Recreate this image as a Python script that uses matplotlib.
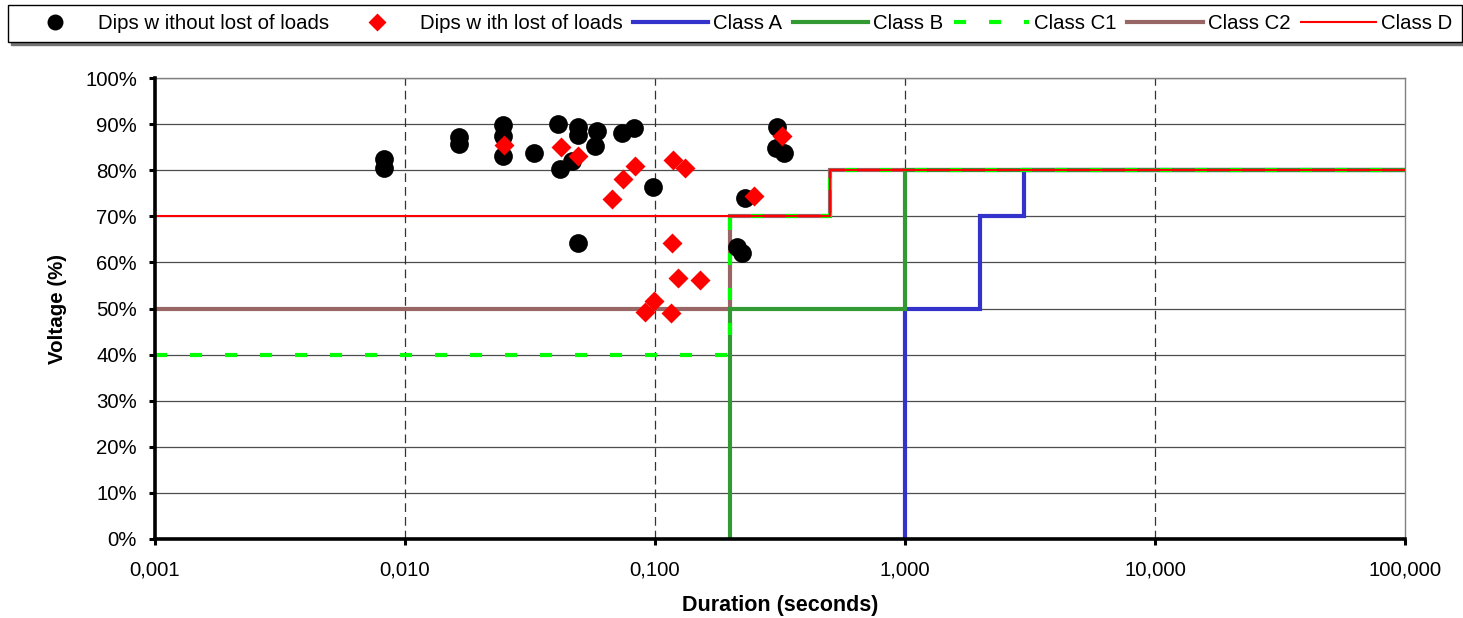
import matplotlib
matplotlib.use("Agg")
import matplotlib.pyplot as plt
from matplotlib.ticker import FixedLocator, NullLocator, FixedFormatter

plt.rcParams['font.family'] = ['Liberation Sans', 'DejaVu Sans']

# Measured dips: duration (s) and residual voltage (%)
dips_no_loss_t = [0.00824, 0.00824, 0.0164, 0.0164, 0.0247, 0.0247, 0.0247,
                  0.0328, 0.0409, 0.0417, 0.0466, 0.0492, 0.0492, 0.0492,
                  0.0586, 0.0575, 0.0738, 0.0824, 0.0982, 0.229, 0.213,
                  0.223, 0.308, 0.305, 0.328]
dips_no_loss_v = [82.4, 80.5, 87.2, 85.7, 89.7, 87.5, 83.0,
                  83.7, 90.0, 80.3, 82.0, 89.4, 87.6, 64.2,
                  88.5, 85.2, 88.1, 89.2, 76.4, 74.0, 63.3,
                  62.0, 89.4, 84.8, 83.7]

dips_loss_t = [0.0249, 0.0421, 0.0492, 0.0832, 0.0745, 0.0673, 0.118, 0.132,
               0.117, 0.124, 0.151, 0.099, 0.0912, 0.116, 0.249, 0.322]
dips_loss_v = [85.5, 85.0, 83.1, 80.9, 78.1, 73.8, 82.2, 80.5,
               64.2, 56.6, 56.2, 51.6, 49.2, 49.0, 74.4, 87.4]

# Equipment immunity class curves (duration s, voltage %)
class_a_t = [1, 1, 2, 2, 3, 3, 100]
class_a_v = [0, 50, 50, 70, 70, 80, 80]
class_b_t = [0.2, 0.2, 1, 1, 100]
class_b_v = [0, 50, 50, 80, 80]
class_c1_t = [0.001, 0.2, 0.2, 0.5, 0.5, 100]
class_c1_v = [40, 40, 70, 70, 80, 80]
class_c2_t = [0.001, 0.2, 0.2, 0.5, 0.5, 100]
class_c2_v = [50, 50, 70, 70, 80, 80]
class_d_t = [0.001, 0.5, 0.5, 100]
class_d_v = [70, 70, 80, 80]

x_ticks = [0.001, 0.01, 0.1, 1, 10, 100]
x_tick_labels = ["0,001", "0,010", "0,100", "1,000", "10,000", "100,000"]
y_ticks = list(range(0, 101, 10))
y_tick_labels = [f"{v}%" for v in y_ticks]

fig = plt.figure(figsize=(14.63, 6.18), dpi=100)
ax = fig.add_axes([155 / 1463, 1 - 539 / 618, 1250 / 1463, 461 / 618])

ax.set_xscale('log')
ax.set_xlim(0.001, 100)
ax.set_ylim(0, 100)

# grid
for v in y_ticks[1:]:
    ax.axhline(v, color='#4d4d4d', lw=0.9, zorder=0.5)
for t in x_ticks[1:-1]:
    ax.axvline(t, color='#333333', lw=0.9, zorder=0.5, dashes=(7, 4))

ha, = ax.plot(class_a_t, class_a_v, color='#3333CC', lw=3.0, zorder=2,
              label='Class A', solid_joinstyle='miter')
hb, = ax.plot(class_b_t, class_b_v, color='#339933', lw=3.0, zorder=3,
              label='Class B', solid_joinstyle='miter')
hc1, = ax.plot(class_c1_t, class_c1_v, color='#00FF00', lw=3.0, zorder=4,
               label='Class C1', dashes=(2.9, 5.5), dash_capstyle='butt')
hc2, = ax.plot(class_c2_t, class_c2_v, color='#996666', lw=3.0, zorder=1.5,
               label='Class C2', solid_joinstyle='miter')
hd, = ax.plot(class_d_t, class_d_v, color='#FF0000', lw=1.5, zorder=5,
              label='Class D')

h1, = ax.plot(dips_no_loss_t, dips_no_loss_v, 'o', color='black', ms=13.5,
              mec='none', zorder=6, label='Dips w ithout lost of loads')
h2, = ax.plot(dips_loss_t, dips_loss_v, 'D', color='#FF0000', ms=10.5,
              mec='none', zorder=7, label='Dips w ith lost of loads')

ax.xaxis.set_major_locator(FixedLocator(x_ticks))
ax.xaxis.set_major_formatter(FixedFormatter(x_tick_labels))
ax.xaxis.set_minor_locator(NullLocator())
ax.yaxis.set_major_locator(FixedLocator(y_ticks))
ax.yaxis.set_major_formatter(FixedFormatter(y_tick_labels))

ax.tick_params(axis='both', which='major', direction='out', length=4,
               width=2.2, labelsize=14.7, colors='black')
ax.tick_params(axis='x', pad=11.5)
ax.tick_params(axis='y', pad=9)

for side in ('left', 'bottom'):
    ax.spines[side].set_linewidth(2.6)
    ax.spines[side].set_color('black')
    ax.spines[side].set_zorder(8)
for side in ('top', 'right'):
    ax.spines[side].set_linewidth(1.0)
    ax.spines[side].set_color('#808080')

ax.set_xlabel('Duration (seconds)', fontsize=15.5, fontweight='bold', labelpad=11.5)
ax.set_ylabel('Voltage (%)', fontsize=14.8, fontweight='bold', labelpad=13)

leg = fig.legend(handles=[h1, h2, ha, hb, hc1, hc2, hd], ncol=7,
                 loc='upper left', bbox_to_anchor=(8 / 1463, 1 - 5 / 618),
                 fontsize=14.7, frameon=True, fancybox=False,
                 handlelength=3.7, handletextpad=0.25, columnspacing=0.5,
                 borderpad=0.45, borderaxespad=0, markerscale=0.85,
                 shadow={'color': '0.45', 'alpha': 1.0})
leg.get_frame().set_edgecolor('black')
leg.get_frame().set_linewidth(1.0)

fig.savefig('out.png', dpi=100)
